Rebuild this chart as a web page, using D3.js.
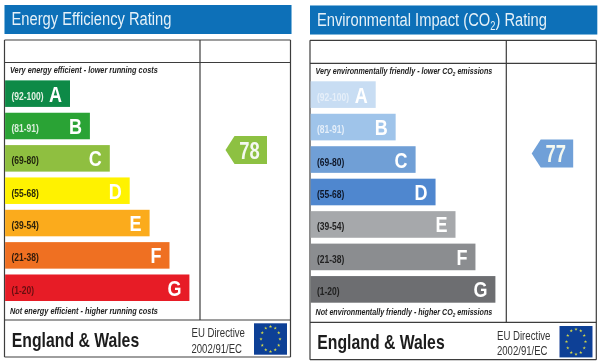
<!DOCTYPE html>
<html>
<head>
<meta charset="utf-8">
<script src="https://cdn.jsdelivr.net/npm/d3@7"></script>
<style>
  html, body { margin: 0; padding: 0; background: #fff; }
  svg { display: block; }
  text { font-family: "Liberation Sans", Arial, sans-serif; }
</style>
</head>
<body>
<div id="graph"></div>
<script>
const bandLetters = ["A", "B", "C", "D", "E", "F", "G"];
const bandRanges = ["(92-100)", "(81-91)", "(69-80)", "(55-68)", "(39-54)", "(21-38)", "(1-20)"];
const bandMax = [100, 91, 80, 68, 54, 38, 20];
const bandMin = [92, 81, 69, 55, 39, 21, 1];
const barSteps = [1, 2, 3, 4, 5, 6, 7];

const energyColors = ["#0b8a47", "#2aa336", "#8fbf3f", "#fff200", "#fbab1e", "#ef7022", "#e71f28"];
const energyLabelColors = ["#e4f2e4", "#dcefdc", "#20240f", "#2a2a08", "#2e2208", "#2e1a0a", "#6a0c10"];
const co2Colors = ["#c8ddf3", "#9fc4ea", "#6f9fd6", "#4f87cf", "#a6a8ab", "#8b8d90", "#6d6e71"];
const co2LabelColors = ["#e6eff9", "#e4eef9", "#10182a", "#10182a", "#222", "#222", "#222"];

const energyRating = 78;
const co2Rating = 77;

const svg = d3.select("#graph").append("svg")
    .attr("width", 600)
    .attr("height", 363);

const defs = svg.append("defs");
defs.append("filter").attr("id", "soft")
    .append("feGaussianBlur").attr("stdDeviation", 0.35);

const root = svg.append("g").attr("filter", "url(#soft)");

// The original uses a narrow face, so squeeze Liberation Sans to a set width
function squeeze(sel, x, y, width) {
    const len = sel.node().getComputedTextLength();
    sel.attr("transform", "translate(" + x + "," + y + ") scale(" + (width / len) + ",1)");
}

function addParts(t, parts, subSize, shift) {
    parts.forEach(function(part) {
        const s = t.append("tspan").text(part.text);
        if (part.sub) {
            s.attr("font-size", subSize).attr("dy", shift);
        } else if (part.after) {
            s.attr("dy", -shift);
        }
    });
}

function drawPanel(p) {
    const g = root.append("g");

    // Header
    g.append("rect")
        .attr("x", p.left).attr("y", p.headTop)
        .attr("width", p.right - p.left + 1).attr("height", 29)
        .attr("fill", "#0b6fb8");
    const title = g.append("text")
        .attr("font-size", 19)
        .attr("fill", "#e6f1f8");
    addParts(title, p.title, 12, 4);
    squeeze(title, p.left + 7, p.headTop + 20.3, p.titleWidth);

    // Frame
    const line = function(x1, y1, x2, y2) {
        g.append("line")
            .attr("x1", x1).attr("y1", y1).attr("x2", x2).attr("y2", y2)
            .attr("stroke", "#3c3c3c").attr("stroke-width", 1.2);
    };
    line(p.left, p.top, p.right, p.top);
    line(p.left, p.top, p.left, p.bottom);
    line(p.right, p.top, p.right, p.bottom);
    line(p.left, p.bottom, p.right, p.bottom);
    line(p.left, p.rowLine, p.right, p.rowLine);
    line(p.left, p.footLine, p.right, p.footLine);
    line(p.divider, p.top, p.divider, p.footLine);

    // Scales
    const y = d3.scaleBand()
        .domain(bandLetters)
        .range(p.barRange)
        .paddingInner(0.18);
    const x = d3.scaleLinear()
        .domain([1, 7])
        .range(p.barX);

    const bars = g.selectAll("g.band")
        .data(bandLetters)
        .enter()
        .append("g")
        .attr("class", "band");

    bars.append("rect")
        .attr("x", p.left + 0.6)
        .attr("y", function(d) { return y(d); })
        .attr("width", function(d, i) { return x(barSteps[i]) - p.left - 0.6; })
        .attr("height", y.bandwidth())
        .attr("fill", function(d, i) { return p.colors[i]; });

    bars.append("text")
        .attr("transform", function(d) {
            return "translate(" + (p.left + 7) + "," + (y(d) + y.bandwidth() / 2 + 6) + ") scale(0.85,1)";
        })
        .attr("font-size", 10)
        .attr("font-weight", "bold")
        .attr("fill", function(d, i) { return p.labelColors[i]; })
        .text(function(d, i) { return bandRanges[i]; });

    bars.append("text")
        .attr("transform", function(d, i) {
            return "translate(" + (x(barSteps[i]) - 8) + "," + (y(d) + y.bandwidth() / 2 + 8) + ") scale(0.8,1)";
        })
        .attr("text-anchor", "end")
        .attr("font-size", 22.5)
        .attr("font-weight", "bold")
        .attr("fill", "#fff")
        .text(function(d) { return d; });

    // Captions
    const caption = function(py, parts, width) {
        const t = g.append("text")
            .attr("font-size", 9.3)
            .attr("font-weight", "bold")
            .attr("font-style", "italic")
            .attr("fill", "#222");
        addParts(t, parts, 6, 1.5);
        squeeze(t, p.left + 5.5, py, width);
    };
    caption(p.capTop, p.topText, p.capWidth);
    caption(p.capBottom, p.bottomText, p.capWidth);

    // Rating arrow, placed inside its band by score
    const idx = bandLetters.findIndex(function(d, i) {
        return p.rating >= bandMin[i] && p.rating <= bandMax[i];
    });
    const scoreY = d3.scaleLinear()
        .domain([bandMax[idx], bandMin[idx]])
        .range([y(bandLetters[idx]), y(bandLetters[idx]) + y.bandwidth()]);
    const cy = scoreY(p.rating);
    const ax = p.arrowX;
    const arrow = d3.line();
    g.append("path")
        .attr("d", arrow([[ax, cy], [ax + 9, cy - 14], [ax + 41.5, cy - 14], [ax + 41.5, cy + 14], [ax + 9, cy + 14]]) + "Z")
        .attr("fill", p.arrowColor);
    const score = g.append("text")
        .attr("font-size", 23)
        .attr("font-weight", "bold")
        .attr("fill", "#f4f8f0")
        .text(p.rating);
    squeeze(score, ax + 13.7, cy + 8.8, 20.5);

    // Footer
    const foot = g.append("text")
        .attr("font-size", 20)
        .attr("font-weight", "bold")
        .attr("fill", "#1d1d1d")
        .text("England & Wales");
    squeeze(foot, p.left + 7.3, p.bottom - 10.5, 127.5);
    const eu1 = g.append("text")
        .attr("font-size", 12.5)
        .attr("fill", "#333")
        .text("EU Directive");
    squeeze(eu1, p.left + 187, p.bottom - 20, 53.5);
    const eu2 = g.append("text")
        .attr("font-size", 12.5)
        .attr("fill", "#333")
        .text("2002/91/EC");
    squeeze(eu2, p.left + 187, p.bottom - 4.5, 50.5);

    // EU flag
    const fx = p.left + 249.5, fy = p.bottom - 33.7, fw = 33, fh = 31.4;
    g.append("rect")
        .attr("x", fx).attr("y", fy).attr("width", fw).attr("height", fh)
        .attr("fill", "#0f3f96");
    const star = d3.symbol().type(d3.symbolStar).size(3.5);
    g.selectAll("path.star")
        .data(d3.range(12))
        .enter()
        .append("path")
        .attr("class", "star")
        .attr("d", star)
        .attr("fill", "#d6dc48")
        .attr("transform", function(d) {
            const a = d * Math.PI / 6;
            return "translate(" + (fx + fw / 2 + 9.5 * Math.sin(a)) + "," + (fy + fh / 2 - 12.5 * Math.cos(a)) + ")";
        });
}

drawPanel({
    left: 4.5, right: 290.5, divider: 200, headTop: 5,
    top: 40, rowLine: 62.5, footLine: 320, bottom: 357,
    barRange: [80.4, 301], barX: [70, 189.4],
    capTop: 73.4, capBottom: 314, arrowX: 225.5,
    titleWidth: 160, capWidth: 148,
    title: [{ text: "Energy Efficiency Rating" }],
    topText: [{ text: "Very energy efficient - lower running costs" }],
    bottomText: [{ text: "Not energy efficient - higher running costs" }],
    colors: energyColors, labelColors: energyLabelColors,
    rating: energyRating, arrowColor: "#8dc143"
});

drawPanel({
    left: 310, right: 596.3, divider: 506.3, headTop: 5.5,
    top: 40.3, rowLine: 63.3, footLine: 322.3, bottom: 359.7,
    barRange: [81.3, 302.7], barX: [375.7, 495.4],
    capTop: 74.4, capBottom: 315, arrowX: 531.7,
    titleWidth: 230, capWidth: 177,
    title: [
        { text: "Environmental Impact (CO" },
        { text: "2", sub: true },
        { text: ") Rating", after: true }
    ],
    topText: [
        { text: "Very environmentally friendly - lower CO" },
        { text: "2", sub: true },
        { text: " emissions", after: true }
    ],
    bottomText: [
        { text: "Not environmentally friendly - higher CO" },
        { text: "2", sub: true },
        { text: " emissions", after: true }
    ],
    colors: co2Colors, labelColors: co2LabelColors,
    rating: co2Rating, arrowColor: "#6fa0d8"
});
</script>
</body>
</html>
